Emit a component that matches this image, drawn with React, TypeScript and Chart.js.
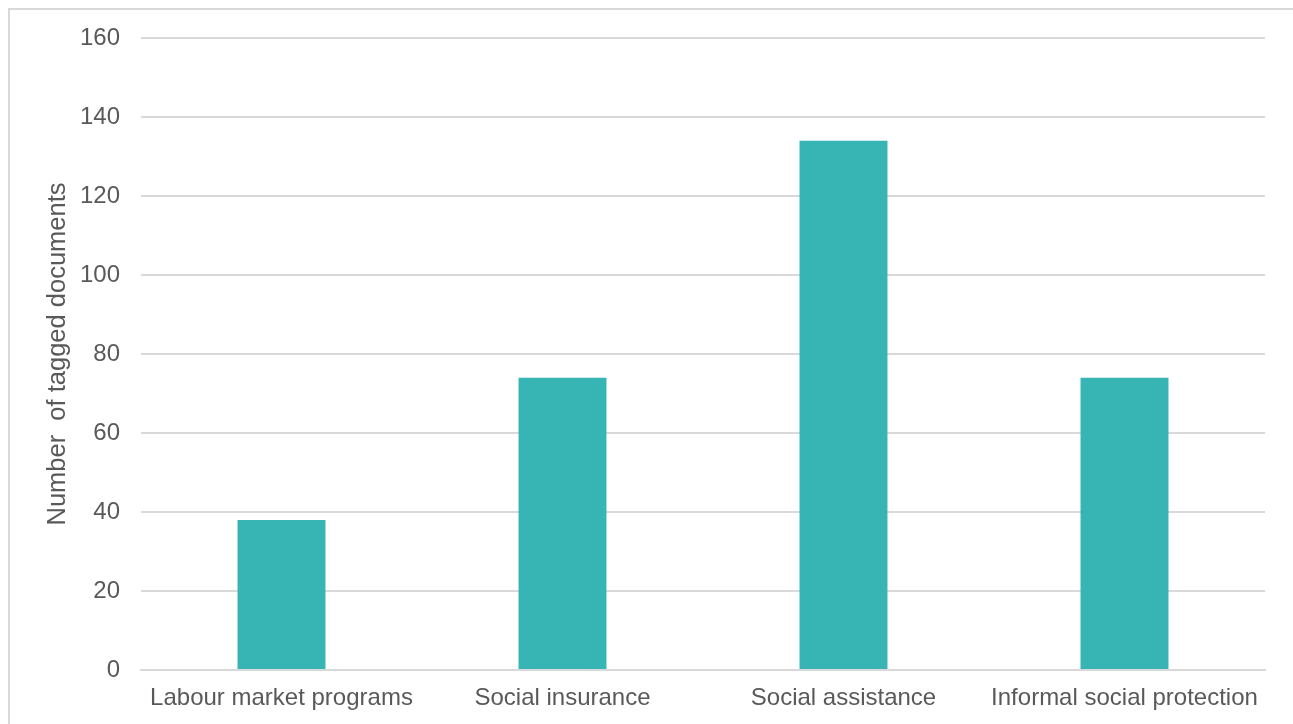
import React, { useEffect, useRef } from "react";
import { Chart, registerables } from "chart.js";

Chart.register(...registerables);

const categories = [
  "Labour market programs",
  "Social insurance",
  "Social assistance",
  "Informal social protection",
];
const documentCounts = [38, 74, 134, 74];
const yTitle = "Number  of tagged documents";

const FONT = "'Liberation Sans', Arial, sans-serif";
const TEXT = "#595959";
const GRID = "#d9d9d9";

export default function App() {
  const ref = useRef<HTMLCanvasElement | null>(null);

  useEffect(() => {
    if (!ref.current) return;
    const chart = new Chart(ref.current, {
      type: "bar",
      data: {
        labels: categories,
        datasets: [
          {
            data: documentCounts,
            backgroundColor: "#36B5B4",
            barPercentage: 0.313,
            categoryPercentage: 1,
          },
        ],
      },
      options: {
        responsive: false,
        animation: false,
        devicePixelRatio: 1,
        layout: { padding: { top: 28, right: 28, left: 0, bottom: 0 } },
        plugins: { legend: { display: false }, tooltip: { enabled: false } },
        scales: {
          x: {
            grid: { display: false, drawTicks: false },
            border: { display: true, color: GRID, width: 2 },
            ticks: { font: { family: FONT, size: 24 }, color: TEXT, padding: 14, maxRotation: 0 },
            afterFit: (s: any) => {
              s.height = 54;
              s.paddingLeft = 0;
              s.paddingRight = 0;
            },
          },
          y: {
            min: 0,
            max: 160,
            ticks: { stepSize: 20, font: { family: FONT, size: 24 }, color: TEXT, padding: 21 },
            grid: { color: GRID, lineWidth: 2, drawTicks: false },
            border: { display: false },
            title: {
              display: true,
              text: yTitle,
              font: { family: FONT, size: 25.5 },
              color: TEXT,
              padding: { top: 33, bottom: 0 },
            },
            afterFit: (s: any) => {
              s.width = 131;
              s.paddingTop = 0;
              s.paddingBottom = 0;
            },
          },
        },
      },
    });
    return () => chart.destroy();
  }, []);

  return (
    <div style={{ position: "fixed", left: 0, top: 0, width: 1293, height: 724, overflow: "hidden", background: "#fff" }}>
      <div
        style={{
          position: "absolute",
          left: 8,
          top: 8,
          width: 1400,
          height: 800,
          border: `2px solid ${GRID}`,
        }}
      />
      <canvas
        ref={ref}
        width={1283}
        height={714}
        style={{ position: "absolute", left: 10, top: 10, width: 1283, height: 714 }}
      />
    </div>
  );
}
